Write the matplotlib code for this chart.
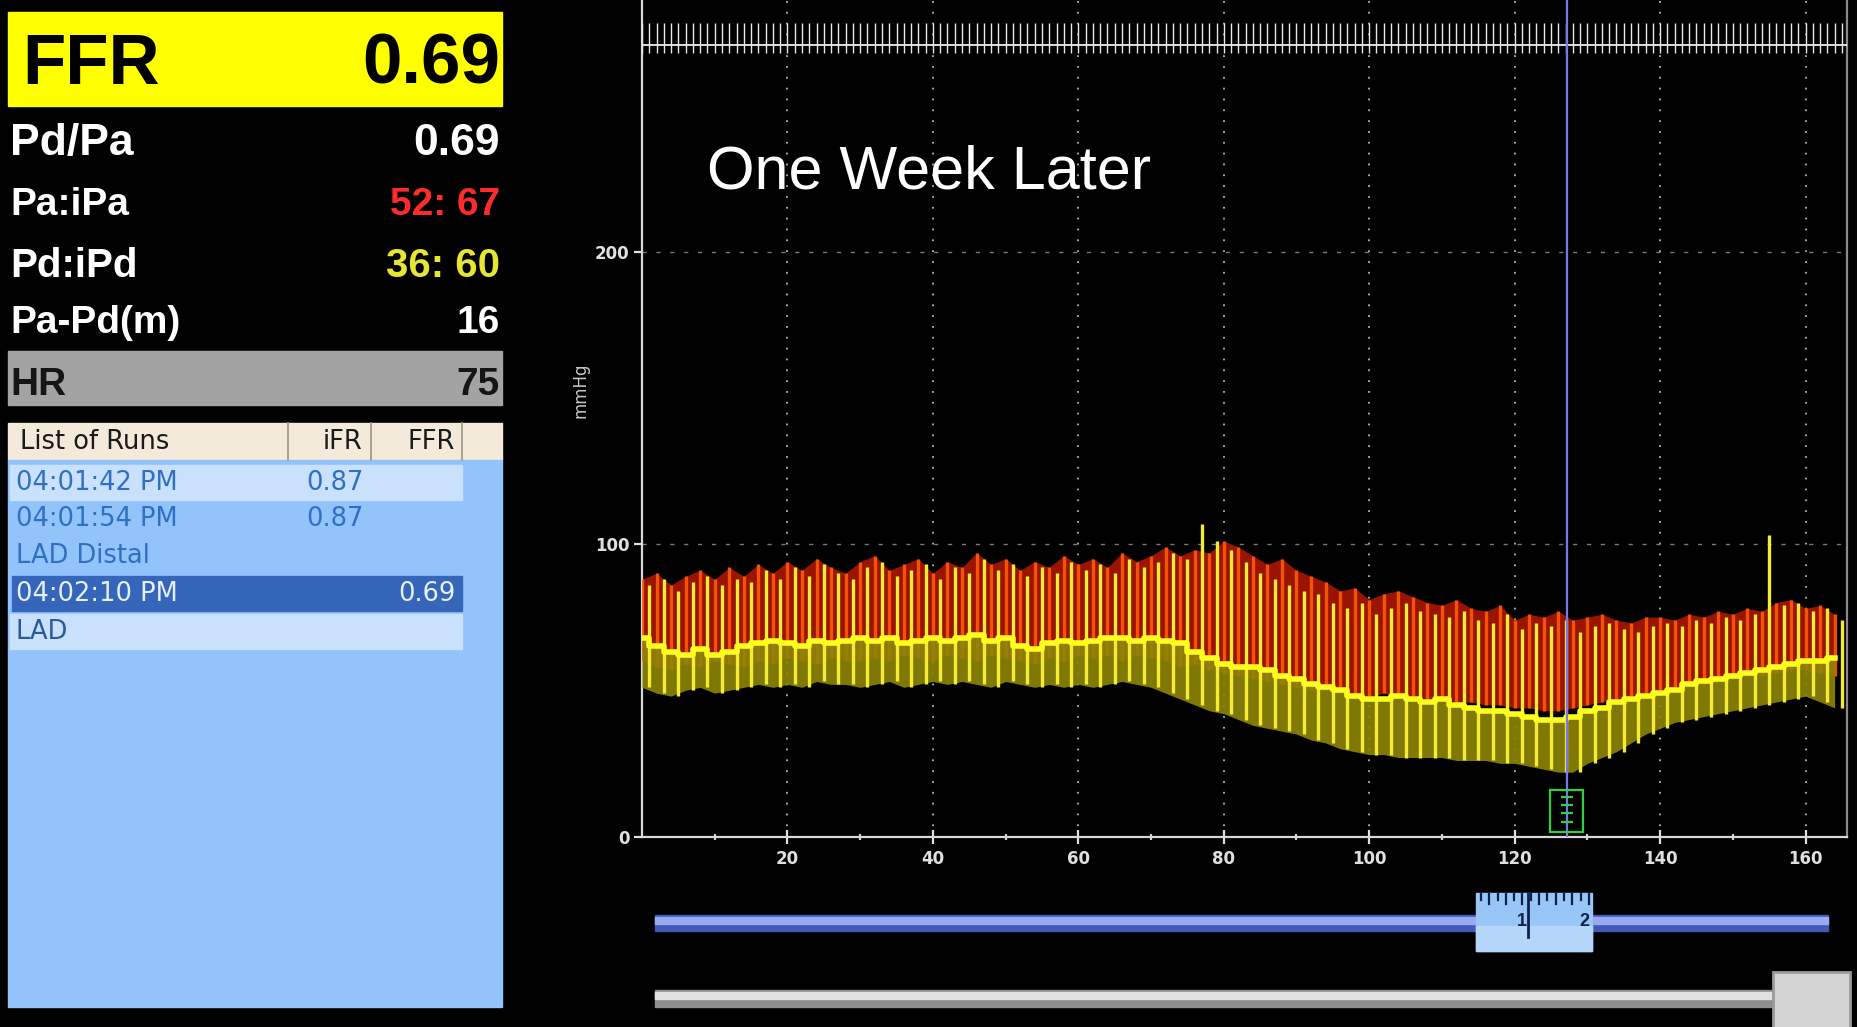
"""FFR run screen: Pa / Pd pressure traces with the run summary panel"""

import numpy as np
import matplotlib.pyplot as plt
from matplotlib.patches import Rectangle

# ---- summary panel values
summary_labels = ['Pd/Pa', 'Pa:iPa', 'Pd:iPd', 'Pa-Pd(m)']
summary_values = ['0.69', '52: 67', '36: 60', '16']
ffr_value = '0.69'
hr_value = '75'

run_header = ['List of Runs', 'iFR', 'FFR']
run_names = ['04:01:42 PM', '04:01:54 PM', 'LAD Distal', '04:02:10 PM', 'LAD']
run_ifr = ['0.87', '0.87', '', '', '']
run_ffr = ['', '', '', '0.69', '']

# ---- traces, read every 2 s off the screen (mmHg)
t = np.arange(0, 165, 2)
pa_hi = [88, 90, 86, 89, 91, 88,
         92, 89, 93, 90, 94,  91, 95, 92, 90, 94,  96, 91, 93, 95, 90,
         94, 92, 97, 93, 95,  91, 94, 92, 96, 93,  95, 92, 97, 94, 96,
         99, 96, 98, 97, 101, 99, 96, 93, 95, 91,  89, 87, 84, 85, 81,
         83, 84, 82, 80, 79,  81, 78, 77, 79, 74,  76, 75, 77, 74, 75,
         76, 74, 73, 75, 75,  74, 76, 75, 77, 76,  78, 77, 80, 81, 78,
         79, 76]
pa_lo = [60, 58, 57, 59, 58, 60,
         59, 58, 60, 59, 61,  60, 59, 61, 60, 60,  61, 60, 62, 61, 60,
         62, 61, 60, 62, 61,  60, 59, 61, 60, 62,  61, 62, 60, 62, 61,
         60, 58, 59, 57, 56,  55, 54, 53, 52, 51,  50, 50, 49, 48, 48,
         49, 48, 48, 47, 47,  46, 46, 45, 45, 44,  44, 43, 43, 44, 45,
         46, 47, 48, 49, 50,  51, 52, 52, 53, 54,  55, 55, 56, 57, 57,
         56, 55]
pd_hi = [86, 88, 84, 87, 89, 86,
         88, 87, 91, 88, 92,  89, 93, 90, 88, 92,  94, 89, 91, 93, 88,
         92, 90, 95, 91, 93,  89, 92, 90, 94, 91,  93, 90, 95, 92, 94,
         97, 95, 107, 101, 98, 94, 90, 88, 86, 84,  83, 80, 78, 80, 76,
         78, 80, 77, 76, 75,  77, 74, 73, 76, 71,  73, 72, 74, 70, 72,
         73, 71, 70, 72, 73,  72, 74, 73, 75, 74,  76, 103, 79, 80, 77,
         78, 74]
pd_lo = [51, 49, 48, 50, 51, 49,
         50, 51, 52, 51, 52,  51, 53, 52, 52, 51,  52, 53, 51, 52, 53,
         52, 53, 52, 51, 53,  52, 51, 52, 51, 52,  51, 52, 53, 52, 51,
         49, 47, 45, 43, 42,  40, 38, 37, 36, 35,  33, 32, 30, 29, 28,
         28, 27, 27, 27, 27,  26, 26, 26, 25, 25,  24, 23, 22, 22, 25,
         27, 29, 32, 35, 37,  39, 40, 41, 42, 43,  44, 45, 46, 47, 48,
         46, 44]
pd_mean = [68, 65, 63, 62, 64, 62,
           63, 65, 66, 67, 66,  65, 67, 66, 67, 68,  67, 68, 66, 67, 68,
           67, 68, 69, 67, 68,  65, 64, 66, 67, 66,  67, 68, 68, 67, 68,
           67, 66, 63, 61, 59,  58, 58, 57, 55, 54,  52, 51, 50, 48, 47,
           47, 48, 47, 46, 47,  45, 44, 43, 43, 42,  41, 40, 40, 41, 43,
           44, 46, 47, 48, 49,  50, 52, 53, 54, 55,  56, 57, 58, 59, 60,
           60, 61]
ecg_base, ecg_lo, ecg_hi = 270.5, 268.0, 278.0

xticks = [20, 40, 60, 80, 100, 120, 140, 160]
xminor = [10, 30, 50, 70, 90, 110, 130, 150]
yticks = [0, 100, 200]
cursor_x = 127.2

W, H = 1858, 1027
bold = dict(family=['Liberation Sans', 'DejaVu Sans'], fontweight='bold')
narrow = dict(family=['Liberation Sans Narrow', 'DejaVu Sans'], fontweight='bold')


def draw_summary(ui):
    """Left panel: FFR box, pressure readouts and list of runs"""
    ui.add_patch(Rectangle((8, 12), 494, 94, color='#ffff00'))
    ui.text(22, 84, 'FFR', fontsize=51, color='black', va='baseline', **bold)
    ui.text(500, 84, ffr_value, fontsize=51, color='black', ha='right',
            va='baseline', **bold)

    colors = ['white', '#ff2a2a', '#e6e632', 'white']
    baselines = [155, 215, 277, 333]
    sizes = [32, 28, 29, 28]
    for lab, val, c, yb, fs in zip(summary_labels, summary_values, colors,
                                   baselines, sizes):
        ui.text(10, yb, lab, fontsize=fs, color='white', va='baseline', **bold)
        ui.text(500, yb, val, fontsize=fs, color=c, ha='right',
                va='baseline', **bold)

    ui.add_patch(Rectangle((8, 351), 494, 54, color='#a3a3a3'))
    ui.text(10, 395, 'HR', fontsize=28, color='#151515', va='baseline', **bold)
    ui.text(500, 395, hr_value, fontsize=28, color='#151515', ha='right',
            va='baseline', **bold)

    # list of runs
    ui.add_patch(Rectangle((8, 423), 494, 37, color='#f3ead9'))
    for xd in [288, 371, 462]:
        ui.plot([xd, xd], [423, 460], color='#9c968c', lw=1.2)
    ui.add_patch(Rectangle((8, 460), 494, 547, color='#93c3fb'))
    ui.add_patch(Rectangle((10, 465), 452, 35, color='#c9e1fd'))
    ui.add_patch(Rectangle((12, 576), 450, 35, color='#3566b9'))
    ui.add_patch(Rectangle((10, 614), 452, 35, color='#c9e1fd'))

    lst = dict(family='DejaVu Sans', fontsize=18.5, va='center')
    ui.text(20, 442, run_header[0], color='#1a1a1a', **lst)
    ui.text(362, 442, run_header[1], color='#1a1a1a', ha='right', **lst)
    ui.text(455, 442, run_header[2], color='#1a1a1a', ha='right', **lst)
    row_y = [483, 519, 556, 594, 632]
    row_c = ['#2f6fc4', '#2f6fc4', '#2f6fc4', '#e8f0ff', '#2a5a9a']
    for name, ifr, ffr, y, c in zip(run_names, run_ifr, run_ffr, row_y, row_c):
        ui.text(16, y, name, color=c, **lst)
        ui.text(364, y, ifr, color=c, ha='right', **lst)
        ui.text(456, y, ffr, color=c, ha='right', **lst)


def draw_sliders(ui):
    """Zoom and scroll bars under the trace"""
    ui.add_patch(Rectangle((655, 915), 1173, 16, color='#4458b8'))
    ui.add_patch(Rectangle((655, 917), 1173, 7, color='#9aaaf2'))
    ui.add_patch(Rectangle((1476, 893), 116, 58, color='#98c6f6'))
    ui.add_patch(Rectangle((1476, 926), 116, 25, color='#b4d6fa'))
    for i, xr in enumerate(np.arange(1481, 1590, 8.3)):
        ln = 10 if i % 2 else 6
        ui.plot([xr, xr], [894, 894 + ln], color='#10204a', lw=1.6)
    ui.plot([1528, 1528], [894, 937], color='#10204a', lw=2)
    ui.text(1522, 922, '1', fontsize=13, color='#10204a', ha='center',
            va='center', **bold)
    ui.text(1584, 922, '2', fontsize=13, color='#10204a', ha='center',
            va='center', **bold)

    ui.add_patch(Rectangle((655, 990), 1120, 17, color='#8e8e8e'))
    ui.add_patch(Rectangle((655, 992), 1120, 7, color='#e2e2e2'))
    ui.add_patch(Rectangle((1773, 972), 77, 60, facecolor='#d4d4d4',
                           edgecolor='#9a9a9a', lw=2))


def draw_trace(ax):
    """Pressure traces, ECG strip and cursor"""
    ax.set_facecolor('black')
    ax.set_xlim(0, 165.7)
    ax.set_ylim(0, 286)

    for x in xticks:
        ax.axvline(x, color='#b4b4b4', lw=1.3, ls=(0, (1, 5)), zorder=1)
    for y in yticks[1:]:
        ax.axhline(y, color='#7a7a7a', lw=1.0, ls=(0, (3, 7)), zorder=1)

    # ECG strip
    ax.hlines(ecg_base, 0, 165.7, color='#eeeeee', lw=1.3, zorder=3)
    ax.vlines(np.concatenate([t, t + 1]), ecg_lo, ecg_hi, color='#e8e8e8',
              lw=1.0, zorder=3)

    # Pa (red) and Pd (yellow)
    ax.fill_between(t, pa_lo, pa_hi, color='#9a1400', lw=0, zorder=2)
    ax.vlines(t, pa_lo, pa_hi, color='#ff5a08', lw=2.4, alpha=0.9, zorder=3)
    ax.fill_between(t, pd_lo, pd_mean, color='#8e8606', lw=0, alpha=0.9,
                    zorder=3)
    ax.vlines(t + 1, pd_lo, pd_hi, color='#f4ec34', lw=2.4, zorder=4)
    ax.plot(t, pd_mean, color='#ffff1e', lw=4, drawstyle='steps-mid',
            zorder=5)

    ax.axvline(cursor_x, color='#7a78e8', lw=1.6, zorder=6)
    ax.add_patch(Rectangle((124.8, 1.5), 4.6, 14.4, fill=False,
                           edgecolor='#2fd040', lw=1.6, zorder=6))
    ax.hlines([5.0, 8.0, 10.8, 13.6], 126.4, 128.0, color='#2fd040', lw=1.6,
              zorder=6)

    ax.text(8.9, 227, 'One Week Later', fontsize=44, color='white',
            va='center', family=['Liberation Sans', 'DejaVu Sans'])
    ax.text(-8.4, 152.6, 'mmHg', fontsize=12, color='#c8c8c8', rotation=90,
            ha='center', va='center', clip_on=False)

    for side in ['left', 'bottom', 'right']:
        ax.spines[side].set_color('#d8d8d8')
        ax.spines[side].set_linewidth(1.6)
    ax.spines['right'].set_color('#8a8a8a')
    ax.spines['top'].set_visible(False)

    ax.set_xticks(xticks)
    ax.set_xticks(xminor, minor=True)
    ax.set_yticks(yticks)
    ax.tick_params(axis='x', which='major', direction='inout', length=10,
                   width=1.6, colors='#e0e0e0', pad=5, labelsize=12)
    ax.tick_params(axis='x', which='minor', direction='inout', length=5,
                   width=1.6, colors='#d0d0d0')
    ax.tick_params(axis='y', direction='out', length=6, width=1.6,
                   colors='#e0e0e0', pad=3, labelsize=12)
    for lbl in ax.get_xticklabels() + ax.get_yticklabels():
        lbl.set_fontfamily(narrow['family'])
        lbl.set_fontweight('bold')


def plot_ffr_screen():
    fig = plt.figure(figsize=(W / 100, H / 100), dpi=100, facecolor='black')

    ui = fig.add_axes([0, 0, 1, 1])
    ui.set_xlim(0, W)
    ui.set_ylim(H, 0)
    ui.axis('off')
    draw_summary(ui)
    draw_sliders(ui)

    ax = fig.add_axes([642 / W, (H - 836.5) / H, 1205 / W, 836.5 / H])
    draw_trace(ax)

    fig.savefig('out.png', dpi=100, facecolor='black')


if __name__ == "__main__":
    plot_ffr_screen()
